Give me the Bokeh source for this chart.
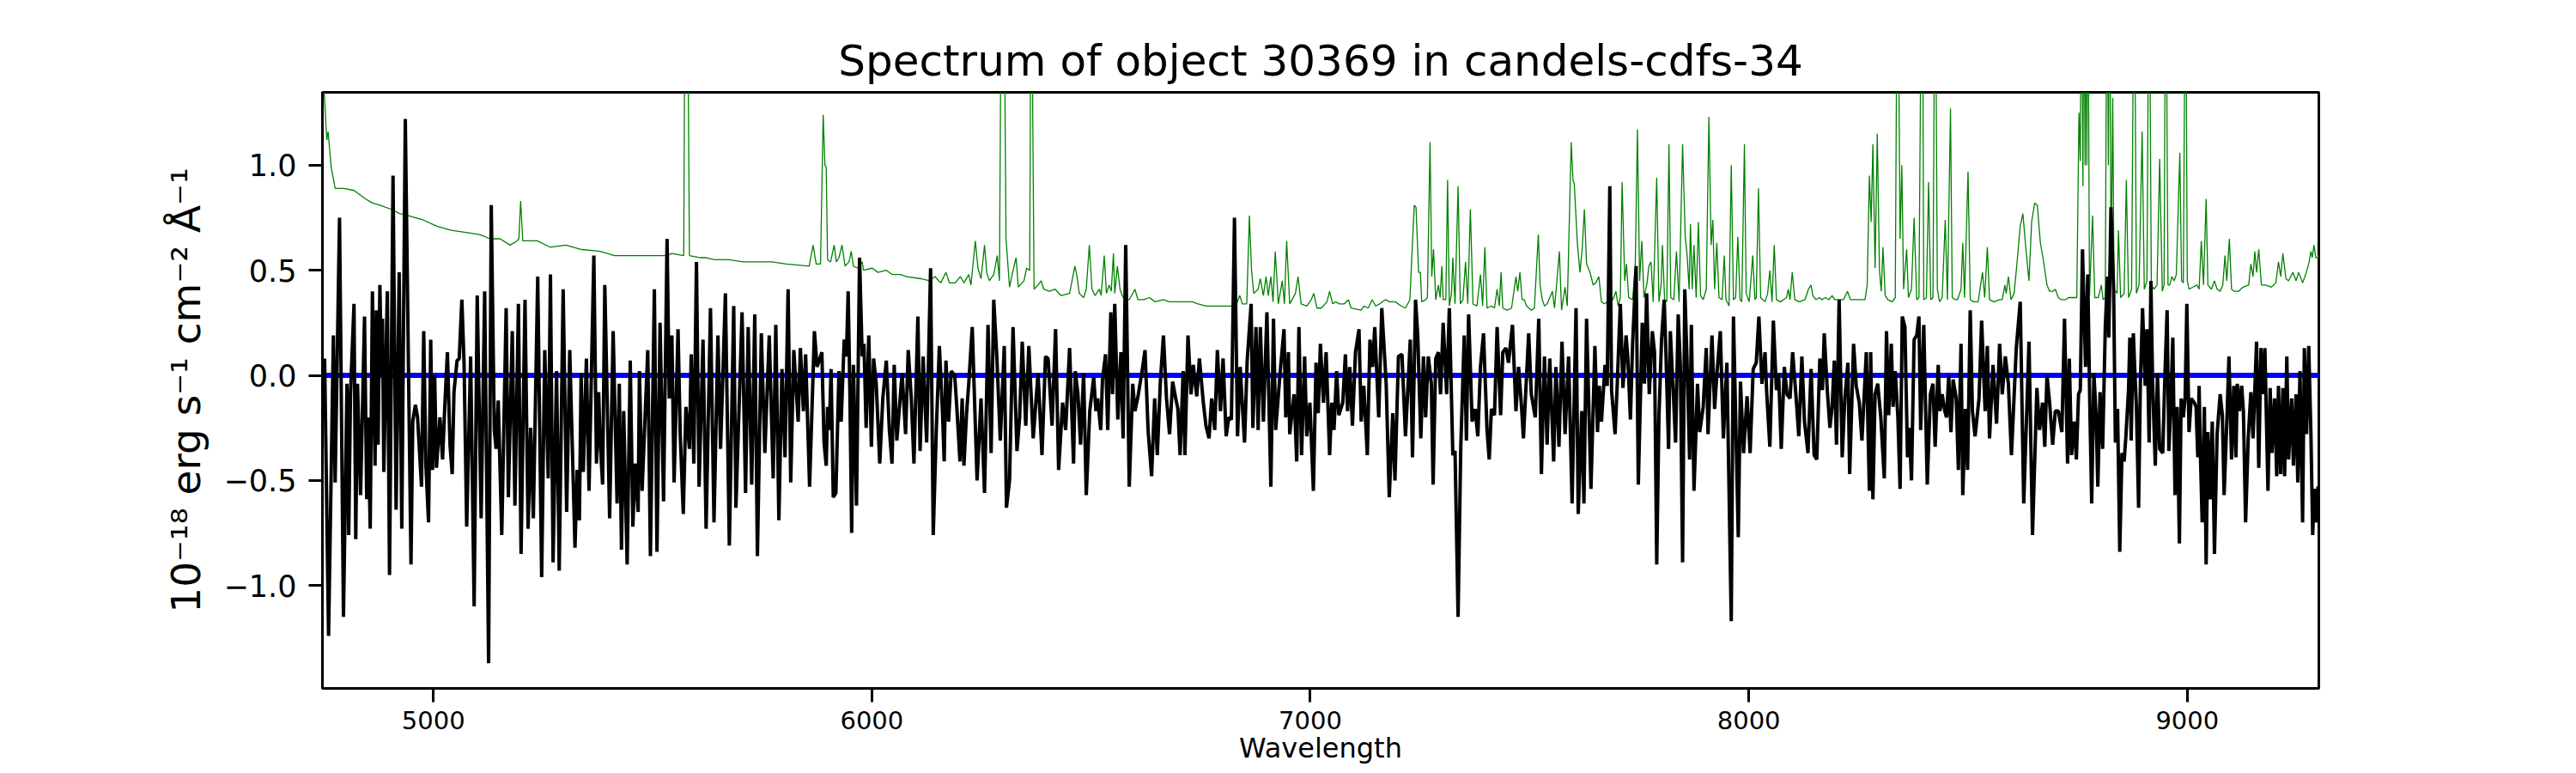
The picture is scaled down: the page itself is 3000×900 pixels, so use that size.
from bokeh.plotting import figure
from bokeh.models import Range1d, FixedTicker, CustomJSTickFormatter, Span
from bokeh.embed import file_html
from bokeh.resources import INLINE

title_text = "Spectrum of object 30369 in candels-cdfs-34"
x_label = "Wavelength"
y_label = "10\u207b\u00b9\u2078 erg s\u207b\u00b9 cm\u207b\u00b2 \u00c5\u207b\u00b9"
x_ticks = [5000, 6000, 7000, 8000, 9000]
y_ticks = [-1.0, -0.5, 0.0, 0.5, 1.0]
x_limits = (4747, 9300)
y_limits = (-1.49, 1.347)
zero_level = 0.0

# object spectrum (wavelength, flux)
spectrum_points = [
    (4752, 0.08), (4761, -1.24), (4772, 0.19), (4776, -0.51), (4786, 0.75), (4795, -1.15),
    (4803, -0.04), (4807, -0.76), (4811, -0.09), (4819, 0.34), (4823, -0.78), (4827, -0.04),
    (4834, -0.57), (4843, 0.28), (4848, -0.59), (4851, -0.20), (4856, -0.73), (4861, 0.40),
    (4867, -0.43), (4870, 0.31), (4874, -0.33), (4878, 0.43), (4882, 0.00), (4884, 0.27),
    (4887, -0.46), (4895, 0.40), (4900, -0.95), (4908, 0.95), (4915, -0.64), (4922, 0.49),
    (4928, -0.73), (4936, 1.22), (4949, -0.90), (4953, -0.22), (4959, -0.14), (4964, -0.20),
    (4973, -0.53), (4978, 0.21), (4983, -0.43), (4989, -0.70), (4994, 0.17), (4998, -0.45),
    (5003, 0.00), (5007, -0.44), (5015, -0.20), (5021, -0.40), (5026, -0.15), (5032, 0.11),
    (5038, -0.33), (5043, -0.47), (5047, -0.08), (5054, 0.07), (5059, 0.08), (5065, 0.36),
    (5070, 0.06), (5076, -0.72), (5085, 0.09), (5093, -1.10), (5100, 0.38), (5109, -0.68),
    (5117, 0.40), (5126, -1.37), (5132, 0.81), (5139, -0.26), (5143, -0.35), (5148, -0.12),
    (5156, -0.76), (5166, 0.32), (5171, -0.58), (5180, 0.21), (5186, -0.62), (5194, 0.34),
    (5200, -0.85), (5209, 0.36), (5216, -0.73), (5222, -0.25), (5228, -0.68), (5238, 0.47),
    (5247, -0.96), (5254, 0.12), (5262, -0.49), (5267, 0.48), (5273, -0.89), (5281, 0.02),
    (5287, -0.93), (5296, 0.41), (5304, -0.65), (5311, 0.12), (5323, -0.82),
    (5328, -0.45), (5333, -0.69), (5337, 0.01), (5342, -0.46), (5349, 0.08), (5355, -0.55),
    (5366, 0.57), (5372, -0.42), (5377, -0.08), (5380, -0.30), (5386, -0.52), (5391, 0.43),
    (5402, -0.68), (5410, 0.21), (5419, -0.61), (5424, -0.04), (5429, -0.83), (5434, -0.17),
    (5442, -0.90), (5449, 0.07), (5455, -0.72), (5460, -0.42), (5467, -0.65), (5470, 0.02),
    (5476, -0.55), (5489, 0.12), (5495, -0.86), (5504, 0.41), (5510, -0.84), (5517, 0.25),
    (5525, -0.60), (5533, 0.65), (5538, -0.11), (5544, 0.19), (5549, -0.51), (5558, 0.22),
    (5563, -0.28), (5570, -0.66), (5576, -0.15), (5584, -0.35), (5588, 0.10), (5594, -0.42),
    (5600, 0.54), (5606, -0.53), (5615, 0.17), (5622, -0.73), (5632, 0.32), (5640, -0.70),
    (5649, 0.19), (5655, -0.35), (5666, 0.39), (5675, -0.81), (5685, 0.33), (5690, -0.63),
    (5704, 0.30), (5712, -0.56), (5718, 0.23), (5726, -0.52), (5733, 0.29), (5739, -0.86),
    (5748, 0.20), (5756, -0.37), (5766, 0.19), (5775, -0.49), (5781, 0.24), (5788, -0.69),
    (5795, 0.03), (5802, -0.39), (5809, 0.41), (5815, -0.51), (5822, 0.12), (5832, -0.22),
    (5837, 0.13), (5844, -0.17), (5849, 0.10), (5858, -0.53), (5869, 0.21), (5875, 0.04),
    (5886, 0.11),
    (5891, -0.32), (5896, -0.43), (5899, -0.15), (5903, -0.26), (5907, 0.03), (5912, -0.58),
    (5918, -0.56), (5925, 0.02), (5930, -0.22), (5937, 0.17), (5942, 0.09), (5946, 0.40),
    (5950, -0.09), (5954, -0.75), (5958, 0.05), (5965, -0.62), (5972, 0.56), (5978, 0.09),
    (5982, 0.15), (5987, -0.25), (5993, 0.19), (5999, -0.34), (6004, 0.08), (6010, -0.04),
    (6018, -0.42), (6025, -0.11), (6033, 0.07), (6040, -0.26), (6046, -0.42), (6051, 0.05),
    (6057, -0.31), (6069, 0.01), (6077, -0.28), (6083, 0.12), (6090, -0.11), (6096, -0.42),
    (6105, 0.28), (6110, -0.36), (6117, 0.09), (6125, -0.32), (6134, 0.51), (6140, -0.76),
    (6147, -0.26), (6154, 0.14), (6161, -0.17), (6165, -0.41), (6169, 0.07), (6175, -0.22),
    (6181, 0.02), (6189, 0.00), (6194, -0.16), (6201, -0.41), (6206, -0.11), (6210, -0.43),
    (6216, -0.18), (6221, -0.04), (6229, 0.23), (6240, -0.50), (6249, -0.11), (6257, -0.56),
    (6265, 0.24), (6272, -0.37), (6278, 0.36), (6285, 0.09), (6293, -0.31), (6302, 0.14),
    (6307, -0.63), (6314, -0.50), (6322, 0.23), (6331, -0.36), (6337, -0.20), (6343, 0.16),
    (6351, -0.24), (6358, 0.14), (6368, -0.30), (6379, 0.01), (6388, -0.38), (6396, 0.09),
    (6402, 0.08), (6411, -0.24), (6419, 0.22), (6426, -0.45), (6435, -0.13), (6442, -0.26),
    (6451, 0.13),
    (6460, -0.42), (6464, 0.02), (6470, -0.09), (6476, -0.33), (6483, 0.01), (6489, -0.57),
    (6497, -0.17), (6506, -0.01), (6511, -0.17), (6515, -0.11), (6522, -0.26), (6526, -0.02),
    (6533, 0.10), (6538, -0.26), (6545, 0.30), (6549, -0.09), (6554, 0.34), (6561, -0.21),
    (6568, 0.11), (6573, -0.30), (6579, 0.62), (6587, -0.53), (6595, -0.04), (6600, -0.17),
    (6607, -0.10), (6617, 0.03), (6623, 0.12), (6630, -0.26), (6638, -0.48), (6645, -0.11),
    (6651, -0.38), (6658, -0.03), (6665, 0.19), (6672, -0.11), (6679, -0.28), (6686, -0.03),
    (6693, -0.11), (6698, -0.16), (6703, -0.38), (6710, 0.02), (6714, -0.38), (6721, 0.19),
    (6728, -0.09), (6733, 0.05), (6741, -0.10), (6747, 0.08), (6756, -0.13), (6762, -0.24),
    (6769, -0.30), (6775, -0.11), (6782, -0.26), (6788, 0.12), (6795, -0.17), (6801, 0.08),
    (6808, -0.29), (6814, -0.20), (6820, -0.21), (6827, 0.75), (6834, -0.29), (6840, 0.04),
    (6850, -0.32), (6856, 0.07), (6865, 0.34), (6869, -0.25), (6876, 0.23), (6881, -0.26),
    (6886, 0.23), (6893, -0.22), (6901, 0.30), (6910, -0.53), (6916, 0.27), (6921, -0.26),
    (6931, 0.01), (6940, 0.22), (6944, -0.20), (6950, 0.11), (6953, -0.28), (6963, -0.09),
    (6969, -0.41), (6974, 0.23), (6980, -0.38), (6987, 0.09), (6992, -0.29), (6999, -0.13),
    (7007, -0.55), (7013, 0.06), (7018, -0.18), (7023, 0.15),
    (7030, -0.13), (7036, 0.11), (7044, -0.38), (7049, -0.13), (7054, -0.26), (7060, 0.02),
    (7065, -0.19), (7074, -0.13), (7080, 0.10), (7085, -0.17), (7090, 0.04), (7096, -0.24),
    (7103, 0.11), (7111, 0.22), (7116, -0.22), (7122, -0.05), (7130, -0.38), (7136, 0.17),
    (7142, 0.04), (7147, 0.23), (7156, -0.20), (7163, 0.32), (7173, -0.04), (7180, -0.58),
    (7188, -0.18), (7193, -0.50), (7201, 0.09), (7209, 0.10), (7217, -0.29), (7228, 0.17),
    (7233, -0.39), (7240, 0.36), (7245, 0.19), (7252, -0.30), (7258, 0.09), (7263, -0.20),
    (7269, 0.09), (7276, -0.04), (7280, -0.52), (7286, 0.08), (7292, 0.11), (7297, -0.09),
    (7303, 0.25), (7311, -0.09), (7317, 0.32), (7325, -0.38), (7330, -0.36), (7337, -1.15),
    (7343, -0.35), (7351, 0.19), (7356, -0.31), (7361, 0.29), (7369, -0.22), (7376, -0.16),
    (7382, -0.29), (7388, 0.04), (7395, 0.20), (7403, -0.26), (7408, -0.40), (7413, -0.16),
    (7420, -0.19), (7426, 0.23), (7434, -0.19), (7439, 0.11), (7446, 0.13), (7452, 0.06),
    (7461, 0.24), (7469, -0.17), (7475, 0.04), (7482, -0.16), (7486, -0.30), (7491, -0.09),
    (7498, 0.20), (7504, -0.09), (7513, -0.20), (7521, 0.27), (7527, -0.47), (7534, 0.09),
    (7540, -0.33), (7546, 0.08), (7555, -0.41), (7560, 0.04), (7567, -0.34), (7574, 0.16),
    (7581, -0.28), (7589, 0.09), (7597, -0.61),
    (7606, 0.32), (7611, -0.66), (7619, -0.17), (7624, -0.61), (7630, 0.27), (7640, -0.54),
    (7649, 0.14), (7655, -0.27), (7659, -0.05), (7664, -0.22), (7672, 0.05), (7677, -0.05),
    (7683, 0.90), (7687, -0.07), (7695, -0.28), (7700, -0.04), (7707, 0.34), (7713, -0.06),
    (7720, 0.19), (7724, 0.09), (7730, -0.21), (7735, 0.15), (7743, 0.52), (7748, -0.52),
    (7757, 0.25), (7762, -0.04), (7767, 0.39), (7773, -0.09), (7780, 0.21), (7785, 0.11),
    (7790, -0.90), (7795, -0.20), (7801, 0.17), (7807, 0.36), (7811, 0.11), (7817, -0.35),
    (7821, 0.21), (7828, -0.09), (7833, -0.32), (7839, 0.29), (7844, 0.04), (7849, -0.89),
    (7854, 0.41), (7859, 0.08), (7865, -0.40), (7869, 0.24), (7875, -0.55), (7883, -0.04),
    (7888, -0.27), (7896, -0.15), (7903, 0.13), (7907, -0.28), (7916, 0.19), (7922, -0.16),
    (7927, 0.00), (7935, 0.21), (7942, -0.30), (7950, 0.06), (7960, -1.17), (7965, 0.28),
    (7976, -0.77), (7981, -0.03), (7988, -0.37), (7996, -0.10), (8003, -0.37), (8010, 0.03),
    (8017, 0.06), (8023, 0.28), (8030, -0.04), (8037, 0.11), (8041, -0.09), (8048, -0.34),
    (8056, 0.26), (8063, -0.07), (8068, 0.01), (8074, -0.35), (8081, 0.04), (8087, -0.09),
    (8094, -0.11), (8100, 0.11), (8108, -0.11), (8114, -0.29), (8121, 0.09), (8127, -0.22),
    (8135, -0.37), (8142, 0.03), (8149, -0.38), (8155, -0.40), (8162, 0.08),
    (8168, -0.07), (8172, 0.20), (8179, -0.07), (8185, -0.25), (8190, -0.15), (8195, 0.07),
    (8200, -0.33), (8206, 0.36), (8213, -0.39), (8219, -0.11), (8226, 0.06), (8230, -0.47),
    (8239, 0.15), (8245, -0.05), (8252, -0.13), (8258, -0.31), (8268, 0.11), (8275, -0.55),
    (8278, 0.11), (8283, -0.59), (8288, -0.09), (8294, -0.04), (8301, -0.20), (8309, -0.49),
    (8314, 0.21), (8319, -0.19), (8325, 0.15), (8329, -0.15), (8334, 0.02), (8340, -0.20),
    (8345, -0.54), (8350, 0.28), (8356, 0.23), (8362, -0.39), (8366, -0.25), (8371, -0.50),
    (8377, 0.17), (8383, 0.19), (8388, 0.28), (8392, -0.26), (8399, 0.24), (8407, -0.52),
    (8414, -0.09), (8420, -0.04), (8425, -0.34), (8432, 0.05), (8436, -0.17), (8441, -0.09),
    (8447, -0.17), (8451, -0.20), (8456, 0.00), (8461, -0.27), (8466, -0.02), (8473, -0.11),
    (8478, -0.45), (8484, 0.15), (8488, -0.57), (8494, -0.16), (8499, -0.45), (8505, 0.31),
    (8510, -0.17), (8516, -0.29), (8525, -0.11), (8531, 0.26), (8539, -0.17), (8544, 0.14),
    (8549, -0.30), (8557, 0.05), (8565, -0.23), (8572, 0.15), (8578, -0.09), (8585, 0.09),
    (8592, -0.04), (8599, -0.38), (8610, 0.13), (8619, 0.35), (8627, -0.61), (8639, 0.16),
    (8647, -0.76), (8657, -0.06), (8663, -0.26), (8670, -0.13), (8675, -0.34), (8680, 0.00),
    (8686, -0.13), (8693, -0.33), (8699, -0.17), (8706, -0.17), (8714, -0.27), (8720, 0.27),
    (8727, -0.42),
    (8731, 0.08), (8736, -0.38), (8742, -0.22), (8747, -0.40), (8752, -0.09), (8756, -0.07),
    (8761, 0.60), (8768, 0.04), (8773, 0.48), (8778, -0.18), (8782, -0.61), (8787, 0.01),
    (8792, -0.19), (8796, -0.53), (8801, -0.08), (8807, -0.35), (8813, 0.23), (8818, 0.47),
    (8821, 0.18), (8826, 0.80), (8832, 0.41), (8836, -0.32), (8841, -0.16), (8846, -0.84),
    (8851, -0.37), (8856, -0.41), (8860, -0.29), (8866, -0.07), (8869, 0.18), (8872, -0.31),
    (8877, 0.20), (8880, 0.04), (8884, -0.15), (8889, -0.63), (8893, -0.04), (8898, 0.32),
    (8904, -0.05), (8908, 0.22), (8913, -0.32), (8917, 0.45), (8921, -0.04), (8927, -0.43),
    (8932, 0.01), (8937, -0.35), (8944, -0.37), (8949, 0.00), (8954, 0.31), (8958, -0.36),
    (8962, -0.17), (8967, 0.18), (8972, -0.57), (8977, -0.15), (8982, -0.80), (8986, -0.11),
    (8991, -0.20), (8995, -0.11), (8999, 0.34), (9004, -0.27), (9009, -0.11), (9016, -0.13),
    (9020, -0.15), (9024, -0.39), (9027, -0.05), (9030, -0.38), (9034, -0.70), (9039, -0.15),
    (9043, -0.90), (9047, -0.27), (9052, -0.59), (9057, -0.22), (9062, -0.85), (9068, -0.28),
    (9075, -0.09), (9080, -0.19), (9084, -0.57), (9091, -0.17), (9095, 0.09), (9101, -0.40),
    (9106, -0.05), (9111, -0.39), (9114, -0.04), (9119, -0.17), (9124, -0.05), (9128, -0.17),
    (9133, -0.70), (9139, -0.30), (9145, -0.08), (9150, -0.30), (9158, 0.16), (9163, -0.44),
    (9168, 0.13), (9173, -0.09), (9177, 0.13), (9184, -0.55), (9189, -0.06), (9193, -0.37),
    (9199, -0.11), (9204, -0.48), (9208, -0.05), (9213, -0.47), (9218, -0.06), (9222, -0.48),
    (9227, 0.09), (9231, -0.40), (9238, -0.11), (9242, -0.43), (9248, -0.09), (9252, -0.51),
    (9257, 0.02), (9263, -0.70), (9267, 0.13), (9272, -0.28), (9277, 0.14), (9282, -0.28),
    (9286, -0.76), (9290, -0.54), (9295, -0.70), (9298, -0.53), (9302, -0.55),
]

# sky spectrum (wavelength, flux)
sky_points = [
    (4747, 1.50), (4757, 1.12), (4760, 1.16), (4767, 0.99), (4776, 0.89), (4796, 0.89),
    (4819, 0.88), (4845, 0.84), (4861, 0.82), (4878, 0.81), (4904, 0.79), (4923, 0.77),
    (4943, 0.76), (4976, 0.74), (5008, 0.71), (5041, 0.69), (5074, 0.68), (5106, 0.67),
    (5129, 0.65), (5152, 0.65), (5175, 0.62), (5191, 0.64), (5195, 0.65), (5199, 0.83),
    (5204, 0.64), (5237, 0.64), (5266, 0.61), (5302, 0.62), (5335, 0.60),
    (5380, 0.59), (5413, 0.57), (5478, 0.57), (5530, 0.57), (5544, 0.58), (5571, 0.57),
    (5573, 1.50), (5577, 2.20), (5581, 1.50), (5584, 0.57), (5609, 0.56), (5622, 0.56),
    (5642, 0.55), (5674, 0.55), (5707, 0.54), (5772, 0.54), (5805, 0.53), (5857, 0.52),
    (5866, 0.62), (5873, 0.53), (5883, 0.53), (5889, 1.24), (5893, 1.00), (5896, 0.99),
    (5899, 0.55),
    (5906, 0.54), (5914, 0.62), (5919, 0.54), (5925, 0.56), (5932, 0.62), (5939, 0.52),
    (5948, 0.54), (5953, 0.59), (5958, 0.52), (5968, 0.51), (5978, 0.54), (5981, 0.50),
    (6001, 0.51), (6014, 0.49), (6033, 0.50), (6046, 0.48), (6066, 0.48), (6079, 0.47),
    (6112, 0.46), (6131, 0.45), (6144, 0.47), (6157, 0.44), (6169, 0.49), (6177, 0.44),
    (6190, 0.44), (6202, 0.47), (6210, 0.44), (6221, 0.48), (6226, 0.43), (6236, 0.64),
    (6242, 0.51), (6249, 0.46), (6257, 0.62), (6262, 0.49), (6268, 0.45), (6278, 0.48),
    (6286, 0.57), (6291, 0.45), (6294, 1.50), (6300, 2.20), (6303, 1.50), (6306, 0.65),
    (6314, 0.42), (6321, 0.49), (6329, 0.56), (6334, 0.42), (6347, 0.45), (6353, 0.51),
    (6360, 0.50), (6362, 1.50), (6364, 2.20), (6366, 1.50), (6370, 0.41), (6379, 0.43),
    (6386, 0.45), (6392, 0.41), (6405, 0.40), (6418, 0.41), (6431, 0.38), (6451, 0.39),
    (6463, 0.52),
    (6468, 0.47), (6473, 0.39), (6483, 0.37), (6489, 0.41), (6496, 0.62), (6502, 0.41),
    (6509, 0.38), (6519, 0.41), (6523, 0.38), (6530, 0.57), (6535, 0.39), (6541, 0.43),
    (6546, 0.40), (6551, 0.58), (6554, 0.39), (6560, 0.52), (6566, 0.41), (6571, 0.38),
    (6577, 0.36), (6587, 0.36), (6600, 0.41), (6607, 0.36), (6620, 0.36), (6633, 0.37),
    (6646, 0.35), (6665, 0.36), (6679, 0.35), (6698, 0.35), (6711, 0.35), (6731, 0.35),
    (6744, 0.34), (6763, 0.33), (6790, 0.33), (6819, 0.33), (6832, 0.34), (6839, 0.38),
    (6845, 0.34), (6855, 0.34), (6861, 0.76), (6866, 0.50), (6871, 0.39), (6881, 0.41),
    (6886, 0.46), (6893, 0.38), (6899, 0.47), (6904, 0.38), (6910, 0.47), (6915, 0.35),
    (6920, 0.59), (6927, 0.34), (6936, 0.45), (6941, 0.34), (6946, 0.64), (6953, 0.34),
    (6966, 0.39), (6972, 0.47), (6979, 0.34), (6992, 0.33), (7002, 0.36), (7008, 0.39),
    (7015, 0.32), (7025, 0.32),
    (7038, 0.35), (7044, 0.40), (7051, 0.34), (7057, 0.35), (7067, 0.34), (7077, 0.34),
    (7087, 0.36), (7093, 0.32), (7116, 0.31), (7122, 0.33), (7132, 0.32), (7141, 0.36),
    (7149, 0.33), (7158, 0.34), (7171, 0.36), (7181, 0.35), (7194, 0.35), (7207, 0.33),
    (7217, 0.32), (7227, 0.36), (7237, 0.81), (7241, 0.80), (7247, 0.49), (7251, 0.49),
    (7254, 0.35), (7263, 0.36), (7267, 0.37), (7273, 1.11), (7277, 0.47), (7281, 0.60),
    (7286, 0.36), (7292, 0.43), (7296, 0.37), (7300, 0.52), (7303, 0.36), (7309, 0.36),
    (7313, 0.93), (7317, 0.33), (7322, 0.39), (7325, 0.56), (7330, 0.34), (7337, 0.90),
    (7342, 0.34), (7348, 0.36), (7354, 0.54), (7359, 0.34), (7365, 0.79), (7371, 0.34),
    (7380, 0.33), (7388, 0.48), (7393, 0.33), (7398, 0.61), (7403, 0.32), (7413, 0.33),
    (7420, 0.32), (7426, 0.41), (7431, 0.33), (7435, 0.49), (7439, 0.32), (7449, 0.31),
    (7459, 0.32), (7469, 0.47), (7473, 0.40), (7478, 0.49), (7483, 0.36), (7488, 0.36),
    (7493, 0.33), (7504, 0.31), (7511, 0.32), (7520, 0.67), (7524, 0.43), (7529, 0.36),
    (7534, 0.33), (7540, 0.34), (7552, 0.40), (7557, 0.32), (7568, 0.59), (7573, 0.31),
    (7581, 0.42), (7586, 0.33), (7595, 1.11),
    (7599, 0.93), (7602, 0.91), (7609, 0.63), (7615, 0.49), (7620, 0.60), (7625, 0.79),
    (7630, 0.53), (7638, 0.49), (7645, 0.43), (7651, 0.44), (7658, 0.47), (7664, 0.35),
    (7671, 0.34), (7677, 0.35), (7684, 0.37), (7690, 0.36), (7697, 0.40), (7702, 0.33),
    (7707, 0.37), (7711, 0.92), (7717, 0.45), (7721, 0.53), (7726, 0.37), (7735, 0.36),
    (7741, 0.52), (7746, 1.17), (7751, 0.45), (7756, 0.64), (7761, 0.37), (7768, 0.44),
    (7772, 0.52), (7777, 0.54), (7782, 0.35), (7790, 0.94), (7795, 0.35), (7800, 0.43),
    (7803, 0.62), (7808, 0.36), (7813, 0.35), (7818, 1.10), (7822, 0.37), (7829, 0.36),
    (7835, 0.59), (7841, 0.35), (7849, 1.10), (7855, 0.66), (7859, 0.58), (7864, 0.41),
    (7867, 0.72), (7871, 0.41), (7875, 0.62), (7880, 0.37), (7885, 0.73), (7890, 0.38),
    (7896, 0.36), (7903, 0.41), (7909, 1.23), (7914, 0.62), (7918, 0.74), (7922, 0.41),
    (7927, 0.63), (7932, 0.37), (7939, 0.36), (7944, 0.57), (7948, 0.36), (7955, 0.33),
    (7960, 1.00), (7965, 0.36), (7970, 0.37), (7975, 0.66), (7980, 0.36), (7984, 0.35),
    (7990, 1.10), (7994, 0.39), (8001, 0.35), (8009, 0.57), (8014, 0.36), (8017, 0.37),
    (8022, 0.89), (8027, 0.37), (8037, 0.35), (8043, 0.39), (8048, 0.50), (8053, 0.35),
    (8058, 0.62), (8063, 0.36), (8072, 0.35), (8079, 0.36), (8086, 0.37), (8090, 0.41),
    (8094, 0.36), (8099, 0.49), (8105, 0.36), (8115, 0.35), (8128, 0.36), (8136, 0.41),
    (8142, 0.43), (8146, 0.38), (8153, 0.36), (8161, 0.37),
    (8167, 0.36), (8174, 0.37), (8183, 0.36), (8190, 0.38), (8196, 0.36), (8206, 0.36),
    (8216, 0.36), (8225, 0.40), (8232, 0.36), (8245, 0.36), (8252, 0.36), (8265, 0.36),
    (8270, 0.43), (8275, 0.95), (8279, 0.73), (8283, 1.10), (8288, 0.51), (8293, 1.15),
    (8298, 0.50), (8302, 0.40), (8306, 0.61), (8311, 0.38), (8317, 0.36), (8327, 0.35),
    (8334, 0.37), (8337, 1.50), (8340, 2.20), (8342, 1.50), (8345, 0.65), (8349, 1.00),
    (8353, 0.41), (8360, 0.60), (8364, 0.37), (8371, 0.41), (8377, 0.75), (8383, 0.36),
    (8388, 0.37), (8392, 1.50), (8394, 2.20), (8397, 1.50), (8399, 0.36), (8405, 0.37),
    (8410, 0.92), (8415, 0.36), (8420, 0.37), (8423, 1.50), (8425, 2.20), (8427, 1.50),
    (8430, 0.41), (8435, 0.35), (8441, 0.37), (8448, 0.74), (8453, 0.36), (8460, 1.27),
    (8464, 0.37), (8471, 0.36), (8476, 0.36), (8484, 0.41), (8488, 0.63), (8492, 0.37),
    (8500, 0.97), (8505, 0.36), (8513, 0.35), (8523, 0.35), (8533, 0.49), (8538, 0.37),
    (8544, 0.61), (8549, 0.36), (8559, 0.35), (8572, 0.36), (8578, 0.36), (8584, 0.43),
    (8587, 0.39), (8592, 0.47), (8598, 0.36), (8605, 0.39), (8611, 0.52), (8619, 0.71),
    (8625, 0.77), (8632, 0.60), (8639, 0.45), (8645, 0.73), (8652, 0.82), (8658, 0.81),
    (8665, 0.63), (8671, 0.56), (8680, 0.43), (8686, 0.40), (8693, 0.40), (8699, 0.41),
    (8706, 0.37), (8712, 0.36), (8722, 0.36), (8729, 0.37),
    (8735, 0.37), (8748, 0.37), (8753, 1.25), (8756, 1.02), (8759, 2.20), (8762, 0.90),
    (8764, 2.20), (8767, 1.00), (8769, 2.20), (8771, 1.00), (8773, 2.20), (8777, 0.38),
    (8784, 0.76), (8789, 0.37), (8797, 0.37), (8804, 0.43), (8808, 0.36), (8813, 0.37),
    (8817, 2.20), (8820, 1.00), (8823, 2.20), (8826, 0.45), (8830, 1.32), (8833, 0.41),
    (8840, 0.39), (8843, 0.69), (8848, 0.37), (8856, 0.39), (8861, 0.93), (8866, 0.37),
    (8873, 0.41), (8879, 2.20), (8884, 0.39), (8890, 0.43), (8897, 1.16), (8902, 0.41),
    (8908, 0.45), (8913, 2.20), (8918, 0.43), (8924, 0.41), (8931, 0.43), (8937, 1.03),
    (8943, 0.40), (8947, 0.43), (8951, 2.20), (8956, 0.43), (8960, 0.43), (8965, 0.47),
    (8970, 0.45), (8975, 0.48), (8983, 1.06), (8987, 0.45), (8991, 0.44), (8996, 2.20),
    (9000, 0.45), (9004, 0.41), (9013, 0.42), (9022, 0.43), (9027, 0.41), (9032, 0.64),
    (9037, 0.43), (9043, 0.84), (9047, 0.43), (9055, 0.41), (9062, 0.45), (9068, 0.41),
    (9075, 0.40), (9081, 0.43), (9086, 0.57), (9090, 0.45), (9096, 0.65), (9101, 0.41),
    (9107, 0.40), (9117, 0.40), (9127, 0.42), (9140, 0.43), (9145, 0.53), (9150, 0.47),
    (9154, 0.59), (9158, 0.49), (9163, 0.60), (9169, 0.43), (9179, 0.43), (9192, 0.42),
    (9202, 0.44), (9208, 0.54), (9213, 0.47), (9218, 0.58), (9225, 0.46), (9231, 0.45),
    (9241, 0.49), (9248, 0.45), (9254, 0.49), (9263, 0.44), (9270, 0.48), (9277, 0.53),
    (9282, 0.59), (9285, 0.56), (9289, 0.62), (9293, 0.56), (9298, 0.56), (9302, 0.58),
]

spec_wave = [w for w, f in spectrum_points]
spec_flux = [f for w, f in spectrum_points]
sky_wave = [w for w, f in sky_points]
sky_flux = [f for w, f in sky_points]

FONT = "DejaVu Sans"

p = figure(
    frame_width=2325, frame_height=694,
    min_border_left=375, min_border_right=284, min_border_top=107, min_border_bottom=0,
    x_range=Range1d(*x_limits), y_range=Range1d(*y_limits),
    title=title_text, output_backend="svg", toolbar_location=None,
    background_fill_color="white", border_fill_color="white",
)

p.title.align = "center"
p.title.text_font = FONT
p.title.text_font_size = "50px"
p.title.text_font_style = "normal"
p.title.text_color = "black"
p.title.standoff = 16

p.outline_line_color = "black"
p.outline_line_width = 3
p.outline_line_alpha = 1.0
p.grid.visible = False

p.line(sky_wave, sky_flux, line_color="#008000", line_width=1.3)
p.add_layout(Span(location=zero_level, dimension="width", line_color="#0000ff",
                  line_width=6, level="underlay"))
p.line(spec_wave, spec_flux, line_color="black", line_width=4)

p.xaxis.ticker = FixedTicker(ticks=x_ticks)
p.yaxis.ticker = FixedTicker(ticks=y_ticks)
p.yaxis.formatter = CustomJSTickFormatter(
    code="return (tick < 0 ? '\\u2212' : '') + Math.abs(tick).toFixed(1);")

for ax in (p.xaxis[0], p.yaxis[0]):
    ax.axis_line_color = "black"
    ax.axis_line_width = 3
    ax.major_tick_line_color = "black"
    ax.major_tick_line_width = 3
    ax.major_tick_out = 16
    ax.major_tick_in = 0
    ax.minor_tick_line_color = None
    ax.major_label_text_font = FONT
    ax.major_label_text_color = "black"
    ax.axis_label_text_font = FONT
    ax.axis_label_text_font_style = "normal"
    ax.axis_label_text_color = "black"

p.xaxis.axis_label = x_label
p.xaxis.major_label_text_font_size = "29px"
p.xaxis.axis_label_text_font_size = "32px"
p.xaxis.major_label_standoff = 10
p.xaxis.axis_label_standoff = 0

p.yaxis.axis_label = y_label
p.yaxis.major_label_text_font_size = "35px"
p.yaxis.axis_label_text_font_size = "47px"
p.yaxis.major_label_standoff = 14
p.yaxis.axis_label_standoff = 14

open("out.html", "w").write(file_html(p, INLINE))
